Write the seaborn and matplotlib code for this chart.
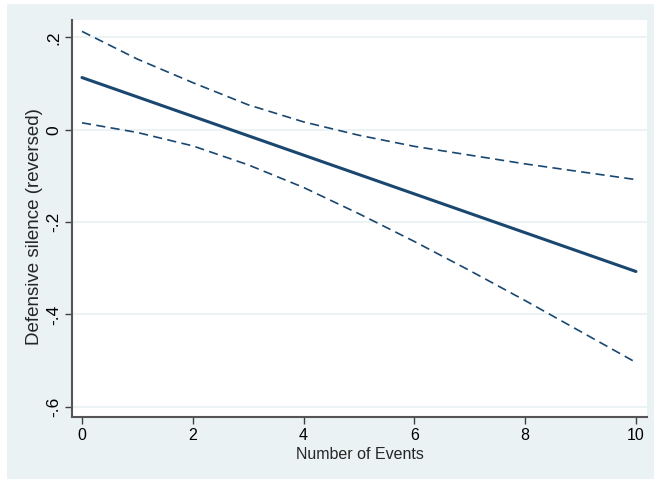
import numpy as np
import pandas as pd
import matplotlib
matplotlib.use("Agg")
import matplotlib.pyplot as plt
import seaborn as sns

# values
events = [0, 1, 2, 3, 4, 5, 6, 7, 8, 9, 10]
fit = [0.113, 0.071, 0.029, -0.013, -0.055, -0.097, -0.139, -0.181, -0.223, -0.265, -0.307]
upper = [0.213, 0.153, 0.102, 0.054, 0.017, -0.012, -0.036, -0.055, -0.074, -0.091, -0.108]
lower = [0.015, -0.006, -0.035, -0.076, -0.125, -0.182, -0.242, -0.305, -0.370, -0.437, -0.504]
xticks = [0, 2, 4, 6, 8, 10]
yticks = [-0.6, -0.4, -0.2, 0, 0.2]
ytick_labels = ["-.6", "-.4", "-.2", "0", ".2"]

navy = "#1a476f"
bg = "#eaf2f3"

sns.set_style("white")
plt.rcParams["font.family"] = ["Liberation Sans", "DejaVu Sans"]

df = pd.DataFrame({"events": events, "fit": fit, "upper": upper, "lower": lower})

fig = plt.figure(figsize=(6.54, 4.79), dpi=100)
# stata style outer region with thin white border top/left
fig.patch.set_facecolor("white")
fig.add_artist(plt.Rectangle((7 / 654, 0), 1, 475 / 479, transform=fig.transFigure,
                             facecolor=bg, edgecolor="none", zorder=-10))
ax = fig.add_axes([0.1101, 0.130, 0.8792, 0.828])
ax.set_facecolor("white")

sns.lineplot(data=df, x="events", y="fit", ax=ax, color=navy, linewidth=2.2)
sns.lineplot(data=df, x="events", y="upper", ax=ax, color=navy, linewidth=1.2,
             linestyle=(0, (5.5, 3.2)))
sns.lineplot(data=df, x="events", y="lower", ax=ax, color=navy, linewidth=1.2,
             linestyle=(0, (5.5, 3.2)))

ax.set_xlim(-0.18, 10.2)
ax.set_ylim(-0.6216, 0.2374)
ax.set_xticks(xticks)
ax.set_yticks(yticks)
ax.set_yticklabels(ytick_labels, rotation=90, va="center")
ax.tick_params(axis="both", direction="out", length=5, width=1, color="#404040",
               labelcolor="black", pad=3)
ax.tick_params(axis="x", labelsize=11.5)
ax.tick_params(axis="y", labelsize=12.5)
ax.tick_params(axis="both", which="both", left=True, bottom=True)

ax.yaxis.grid(True, color=bg, linewidth=1.3)
ax.xaxis.grid(False)
ax.set_axisbelow(True)

for side in ["top", "right"]:
    ax.spines[side].set_visible(False)
for side in ["left", "bottom"]:
    ax.spines[side].set_color("#555555")
    ax.spines[side].set_linewidth(1.5)

ax.set_xlabel("Number of Events", fontsize=11.5, va="center")
ax.set_ylabel("Defensive silence (reversed)", fontsize=13.5, va="center")
ax.xaxis.set_label_coords(0.5, -0.094)
ax.yaxis.set_label_coords(-0.066, 0.48)

fig.savefig("out.png", dpi=100)
